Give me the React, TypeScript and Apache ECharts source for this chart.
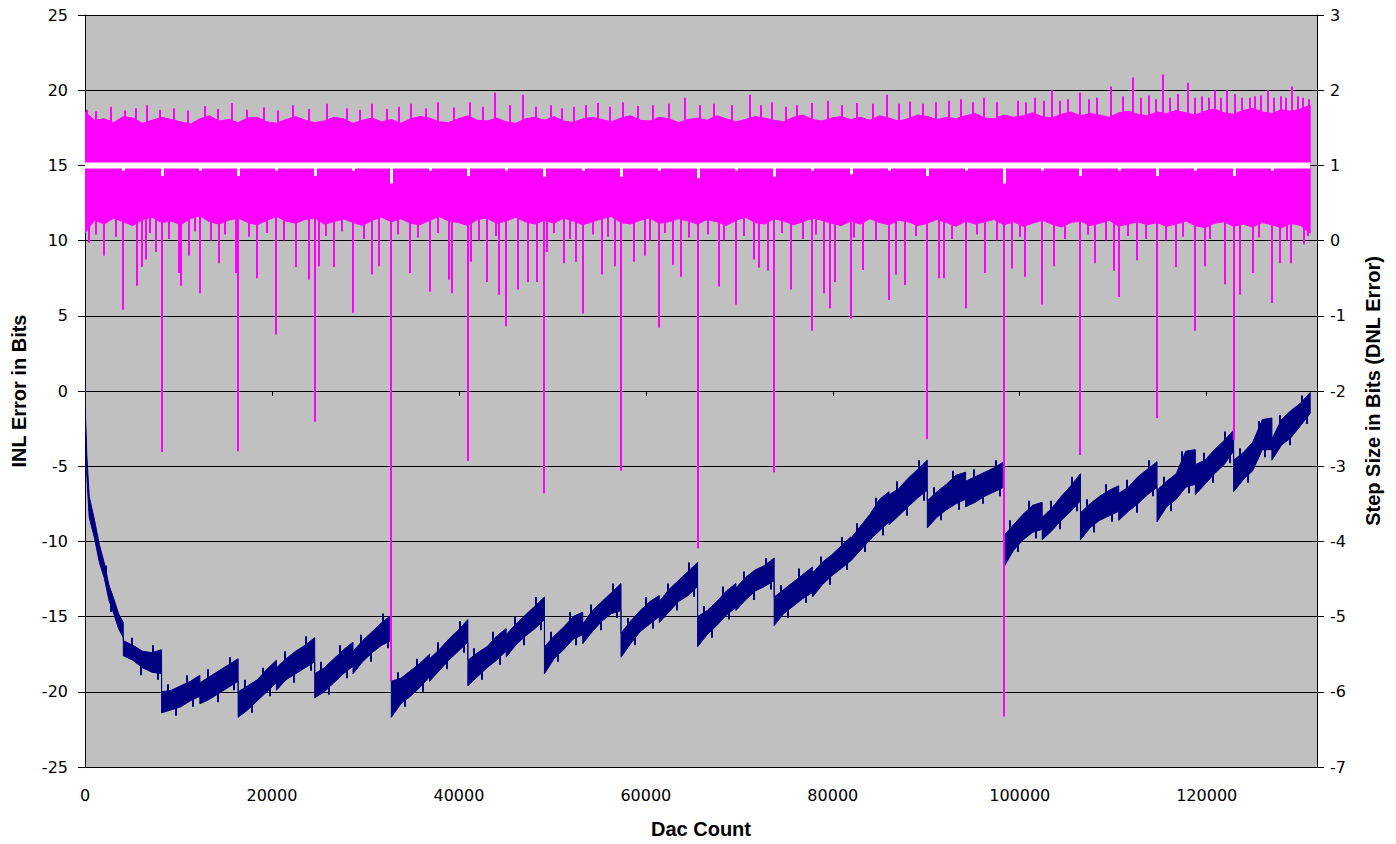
import React, { useEffect, useRef } from "react";
import * as echarts from "echarts";

const LABEL_FONT = "'DejaVu Sans', Verdana, sans-serif";
const NAME_FONT = "'Liberation Sans', Arial, sans-serif";
const NAVY = "#000080";
const MAGENTA = "#FF00FF";
const PLOT_BG = "#C0C0C0";

// ---------- axis ranges ----------
const X_MIN = 0;
const X_MAX = 131800;
const X_STEP = 20000;
const INL_MIN = -25;
const INL_MAX = 25;
const INL_STEP = 5;
const DNL_MIN = -7;
const DNL_MAX = 3;
const DNL_STEP = 1;

// ---------- INL (left axis) : band envelope ----------
const inlCount = [
  0, 64, 192, 448, 1024, 1536, 2048, 2560, 3072, 3584, 4095, 4096, 5120, 6144, 7168, 8191,
  8192, 9216, 10240, 11264, 12287, 12288, 13312, 14336, 15360, 16383,
  16384, 17408, 18432, 19456, 20479, 20480, 21504, 22528, 23552, 24575,
  24576, 25600, 26624, 27648, 28671, 28672, 29696, 30720, 31744, 32767,
  32768, 33792, 34816, 35840, 36863, 36864, 37888, 38912, 39936, 40959,
  40960, 41984, 43008, 44032, 45055, 45056, 46080, 47104, 48128, 49151,
  49152, 50176, 51200, 52224, 53247, 53248, 54272, 55296, 56320, 57343,
  57344, 58368, 59392, 60416, 61439, 61440, 62464, 63488, 64512, 65535,
  65536, 66560, 67584, 68608, 69631, 69632, 70656, 71680, 72704, 73727,
  73728, 74752, 75776, 76800, 77823, 77824, 78848, 79872, 80896, 81919,
  81920, 82944, 83968, 84992, 86015, 86016, 87040, 88064, 89088, 90111,
  90112, 91136, 92160, 93184, 94207, 94208, 95232, 96256, 97280, 98303,
  98304, 99328, 100352, 101376, 102399, 102400, 103424, 104448, 105472, 106495,
  106496, 107520, 108544, 109568, 110591, 110592, 111616, 112640, 113664, 114687,
  114688, 115712, 116736, 117760, 118783, 118784, 119808, 120832, 121856, 122879,
  122880, 123904, 124928, 125952, 126975, 126976, 128000, 129024, 130048, 131071,
];
const inlLow = [
  -0.3, -2.6, -5.6, -8.4, -9.8, -11.4, -12.4, -13.9, -14.8, -15.8, -16.4, -17.6, -17.9, -18.4, -18.7, -18.8,
  -21.4, -21.2, -21.0, -20.6, -20.3, -20.8, -20.5, -20.1, -19.7, -19.3,
  -21.7, -21.2, -20.6, -20.0, -19.4, -19.9, -19.2, -18.8, -18.4, -18.0,
  -20.4, -20.0, -19.4, -18.8, -18.3, -18.8, -18.0, -17.4, -16.9, -16.6,
  -21.7, -20.8, -20.3, -19.7, -19.0, -19.3, -18.6, -17.9, -17.3, -16.7,
  -19.6, -19.0, -18.4, -17.9, -17.3, -17.7, -16.9, -16.3, -15.8, -15.2,
  -18.8, -17.8, -17.2, -16.5, -16.2, -16.8, -16.0, -15.3, -14.8, -14.6,
  -17.7, -16.8, -16.0, -15.5, -15.0, -15.4, -14.7, -14.0, -13.6, -13.0,
  -17.0, -16.2, -15.6, -14.9, -14.4, -14.6, -13.9, -13.3, -13.0, -12.6,
  -15.6, -14.8, -14.3, -13.8, -13.4, -13.7, -12.9, -12.3, -11.8, -11.3,
  -11.3, -10.6, -9.9, -9.3, -8.7, -8.9, -8.3, -7.7, -7.1, -6.6,
  -9.1, -8.4, -7.9, -7.5, -7.2, -7.7, -7.4, -7.0, -6.7, -6.4,
  -11.7, -10.6, -9.9, -9.4, -9.2, -9.9, -9.3, -8.6, -8.0, -7.3,
  -9.9, -9.1, -8.6, -8.3, -8.0, -8.6, -8.0, -7.5, -6.9, -6.4,
  -8.7, -7.7, -7.2, -6.4, -6.2, -6.9, -6.2, -5.5, -4.9, -4.0,
  -6.7, -5.9, -5.3, -3.9, -3.9, -4.6, -3.6, -3.1, -2.3, -1.5,
];
const inlHigh = [
  0.4, -1.8, -4.2, -7.0, -8.6, -10.2, -11.4, -12.9, -13.8, -14.8, -15.4, -16.6, -16.9, -17.3, -17.4, -17.2,
  -20.0, -19.9, -19.6, -19.3, -18.9, -19.4, -19.0, -18.6, -18.2, -17.8,
  -20.0, -19.6, -19.2, -18.5, -17.9, -18.4, -17.8, -17.3, -16.9, -16.4,
  -18.8, -18.4, -17.8, -17.2, -16.7, -17.3, -16.6, -16.0, -15.4, -14.9,
  -19.3, -19.1, -18.6, -18.1, -17.5, -17.8, -17.2, -16.5, -15.9, -15.2,
  -17.9, -17.4, -17.0, -16.3, -15.8, -16.2, -15.5, -14.9, -14.3, -13.7,
  -17.0, -16.3, -15.7, -15.0, -14.7, -15.5, -14.6, -14.0, -13.4, -12.8,
  -16.1, -15.3, -14.6, -14.0, -13.6, -14.0, -13.2, -12.6, -12.0, -11.4,
  -15.0, -14.6, -14.0, -13.3, -12.8, -13.1, -12.4, -11.9, -11.6, -11.1,
  -13.7, -13.2, -12.7, -12.2, -11.7, -12.1, -11.4, -10.9, -10.3, -9.7,
  -9.8, -9.0, -8.2, -7.2, -6.7, -6.9, -6.5, -5.8, -5.2, -4.6,
  -7.3, -6.7, -6.2, -5.6, -5.4, -6.0, -5.7, -5.4, -5.1, -4.7,
  -9.6, -8.9, -8.2, -7.6, -7.4, -8.4, -7.8, -7.0, -6.3, -5.5,
  -8.1, -7.5, -7.0, -6.6, -6.3, -6.8, -6.4, -5.7, -5.2, -4.7,
  -6.6, -6.0, -5.5, -4.0, -3.9, -4.9, -4.6, -3.9, -3.3, -2.6,
  -4.6, -4.1, -3.4, -1.9, -1.8, -3.2, -1.9, -1.3, -0.8, -0.1,
];

// INL noise spikes poking out of the band (tip values)
const inlUpCount = [
  2300, 5000, 7300,
  8892, 10892, 13192, 15492, 17084, 19084, 21384, 23684, 25276, 27276, 29576, 31876,
  33468, 35468, 37768, 40068, 41660, 43660, 45960, 48260, 49852, 51852, 54152, 56452,
  58044, 60044, 62344, 64644, 66236, 68236, 70536, 72836, 74428, 76428, 78728, 81028,
  82620, 84620, 86920, 89220, 90812, 92812, 95112, 97412, 99004, 101004, 103304, 105604,
  107196, 109196, 111496, 113796, 115388, 117388, 119688, 121988, 123580, 125580, 127880, 130180,
];
const inlUpValue = [
  -11.6, -16.4, -16.9,
  -19.5, -18.9, -18.5, -17.7, -19.2, -18.4, -17.3, -16.3, -18.0, -16.9, -16.2, -14.8,
  -18.7, -17.8, -16.7, -15.3, -17.1, -16.0, -15.0, -13.7, -16.0, -14.7, -14.2, -12.8,
  -15.1, -13.7, -12.8, -11.4, -14.3, -13.0, -12.0, -11.1, -12.9, -11.8, -11.0, -9.7,
  -8.8, -7.1, -6.0, -4.6, -6.4, -5.3, -5.2, -4.6, -8.6, -7.3, -7.3, -5.7,
  -7.2, -6.2, -5.9, -4.6, -5.7, -4.0, -4.1, -2.7, -3.8, -2.0, -1.6, -0.3,
];
const inlDownCount = [
  2800, 6000, 7800,
  9692, 11592, 14192, 15992, 17884, 19784, 22384, 24184, 26076, 27976, 30576, 32376,
  34268, 36168, 38768, 40568, 42460, 44360, 46960, 48760, 50652, 52552, 55152, 56952,
  58844, 60744, 63344, 65144, 67036, 68936, 71536, 73336, 75228, 77128, 79728, 81528,
  83420, 85320, 87920, 89720, 91612, 93512, 96112, 97912, 99804, 101704, 104304, 106104,
  107996, 109896, 112496, 114296, 116188, 118088, 120688, 122488, 124380, 126280, 128880, 130680,
];
const inlDownValue = [
  -14.7, -18.9, -19.2,
  -21.6, -21.0, -20.7, -19.9, -21.4, -20.3, -19.4, -18.6, -20.2, -19.1, -18.0, -17.1,
  -21.0, -20.0, -18.5, -17.4, -19.2, -18.2, -16.9, -15.9, -18.0, -16.9, -15.9, -15.1,
  -16.9, -15.8, -14.6, -13.7, -16.4, -15.2, -13.9, -13.2, -15.1, -14.1, -12.9, -11.9,
  -10.7, -9.6, -8.3, -7.3, -8.6, -7.9, -7.5, -7.0, -10.7, -9.8, -9.2, -8.0,
  -9.4, -8.7, -8.1, -7.0, -8.0, -6.8, -6.1, -4.8, -6.1, -4.4, -3.6, -2.2,
];

// ---------- DNL (right axis) : dense band envelope, one value per 1024 counts ----------
const dnlStep = 1024;
const dnlLast = 131071;
const dnlHigh = [
  1.71, 1.60, 1.62, 1.57, 1.65, 1.63, 1.56, 1.60, 1.64, 1.61, 1.58, 1.55, 1.62, 1.66, 1.59, 1.61,
  1.57, 1.63, 1.64, 1.58, 1.56, 1.61, 1.65, 1.60, 1.57, 1.59, 1.64, 1.62, 1.56, 1.60, 1.63, 1.58,
  1.61, 1.56, 1.62, 1.65, 1.63, 1.58, 1.57, 1.62, 1.66, 1.60, 1.59, 1.63, 1.58, 1.56, 1.62, 1.64,
  1.60, 1.65, 1.59, 1.57, 1.62, 1.64, 1.61, 1.58, 1.63, 1.66, 1.60, 1.59, 1.64, 1.62, 1.57, 1.61,
  1.63, 1.60, 1.66, 1.62, 1.58, 1.61, 1.65, 1.63, 1.60, 1.58, 1.64, 1.67, 1.61, 1.59, 1.63, 1.65,
  1.61, 1.64, 1.60, 1.66, 1.63, 1.59, 1.62, 1.67, 1.65, 1.61, 1.64, 1.62, 1.66, 1.69, 1.63, 1.62,
  1.67, 1.64, 1.66, 1.70, 1.65, 1.63, 1.68, 1.71, 1.66, 1.69, 1.67, 1.64, 1.70, 1.72, 1.68, 1.66,
  1.71, 1.69, 1.73, 1.70, 1.67, 1.72, 1.75, 1.70, 1.68, 1.73, 1.76, 1.71, 1.69, 1.74, 1.72, 1.75,
  1.80,
];
const dnlLow = [
  0.10, 0.27, 0.22, 0.30, 0.25, 0.20, 0.28, 0.31, 0.24, 0.26, 0.21, 0.29, 0.33, 0.25, 0.22, 0.27,
  0.30, 0.24, 0.21, 0.27, 0.32, 0.26, 0.23, 0.28, 0.30, 0.22, 0.25, 0.29, 0.24, 0.20, 0.27, 0.31,
  0.25, 0.29, 0.23, 0.21, 0.27, 0.32, 0.26, 0.24, 0.20, 0.28, 0.30, 0.23, 0.26, 0.31, 0.25, 0.22,
  0.27, 0.23, 0.30, 0.26, 0.21, 0.25, 0.29, 0.32, 0.24, 0.22, 0.27, 0.30, 0.23, 0.25, 0.29, 0.26,
  0.22, 0.28, 0.25, 0.20, 0.27, 0.31, 0.24, 0.22, 0.29, 0.26, 0.21, 0.25, 0.30, 0.27, 0.23, 0.20,
  0.26, 0.22, 0.29, 0.24, 0.21, 0.27, 0.25, 0.20, 0.23, 0.28, 0.24, 0.19, 0.26, 0.22, 0.25, 0.28,
  0.21, 0.25, 0.19, 0.23, 0.27, 0.22, 0.18, 0.24, 0.26, 0.20, 0.23, 0.27, 0.19, 0.22, 0.25, 0.21,
  0.24, 0.19, 0.22, 0.26, 0.20, 0.17, 0.23, 0.25, 0.19, 0.22, 0.18, 0.24, 0.21, 0.17, 0.23, 0.20,
  0.10,
];
const dnlCount = dnlHigh.map((_, i) => Math.min(i * dnlStep, dnlLast));

// downward spikes of the step size (count, tip value)
const dnlDownCount = [
  427, 2048, 4096, 5554, 6144, 6515, 7583, 8192, 10039, 10253, 11107, 12288, 14336, 16127, 16384,
  18432, 20480, 22528, 23923, 24576, 24991, 26624, 28672, 30720, 31399, 32768, 34816, 36864, 38912,
  39302, 40960, 41332, 43008, 44322, 45056, 46351, 47419, 48380, 49152, 49448, 51200, 52546, 53248,
  55296, 56711, 57344, 58740, 59915, 61440, 62905, 63760, 65536, 67818, 69632, 71556, 72090, 73051,
  73728, 75508, 77824, 79032, 79673, 80207, 81920, 83197, 86016, 86722, 87683, 90112, 91314, 91848,
  94208, 96334, 98304, 99217, 100606, 102400, 103703, 106496, 108082, 110111, 110592, 112567, 114688,
  116736, 118784, 119830, 121966, 122880, 123568, 124910, 126976, 127840, 129024, 130403,
  1200, 3300, 7000, 9000, 11800, 13500, 15000, 17500, 19500, 21300, 25800, 27500, 29800, 33500, 35600,
  37800, 42200, 44000, 50200, 51900, 54300, 56000, 60400, 62000, 64600, 66600, 68400, 70500, 74600,
  76800, 78200, 82300, 84600, 88900, 92800, 95400, 97600, 100000, 104800, 107300, 109200, 111600,
  113500, 115600, 117500, 120400, 125600, 128600, 130800,
];
const dnlDownValue = [
  -0.03, -0.2, -0.92, -0.6, -0.35, -0.25, -0.15, -2.81, -0.43, -0.6, -0.2, -0.7, -0.3, -0.43, -2.8,
  -0.5, -1.25, -0.35, -0.52, -2.41, -0.34, -0.35, -0.96, -0.45, -0.34, -5.85, -0.43, -0.68, -0.52,
  -0.7, -2.93, -0.28, -0.55, -0.72, -1.14, -0.65, -0.55, -0.55, -3.36, -0.15, -0.3, -0.28, -0.97,
  -0.45, -0.34, -3.06, -0.28, -0.2, -1.16, -0.32, -0.48, -4.09, -0.61, -0.85, -0.25, -0.36, -0.4,
  -3.08, -0.65, -1.2, -0.7, -0.9, -0.55, -1.04, -0.39, -0.79, -0.45, -0.59, -2.64, -0.5, -0.5,
  -0.9, -0.43, -6.33, -0.37, -0.48, -0.85, -0.34, -2.85, -0.3, -0.4, -0.75, -0.26, -2.36,
  -0.35, -1.2, -0.34, -0.58, -2.65, -0.72, -0.43, -0.83, -0.3, -0.3, -0.05,
  0.08, 0.05, 0.1, 0.02, 0.12, 0.0, 0.08, 0.05, 0.1, 0.0, 0.06, 0.12, 0.02, 0.08, 0.04,
  0.1, 0.0, 0.06, 0.1, 0.02, 0.08, 0.05, 0.0, 0.1, 0.04, 0.08, 0.0, 0.06, 0.1,
  0.02, 0.08, 0.04, 0.0, 0.06, 0.02, 0.08, 0.0, 0.05, 0.02, 0.08, 0.0, 0.06,
  0.02, 0.0, 0.05, 0.02, 0.04, 0.0, 0.06,
];

// upward spikes (count, tip value)
const dnlUpCount = [
  214, 1200, 2777, 4300, 5500, 6622, 8000, 9500, 11000, 12800, 14200, 15700, 17300, 19200, 20700,
  22300, 24000, 25846, 28000, 29400, 30652, 32300, 33600, 34924, 36500, 37807, 39500, 41225, 42600,
  43895, 45500, 46885, 48300, 49800, 51000, 52300, 53600, 54900, 56200, 57565, 59200, 60800, 62500,
  64187, 65800, 67300, 69200, 71129, 72300, 73478, 75000, 76200, 77800, 79500, 81000, 82600, 84300,
  85760, 87100, 88300, 89700, 91000, 92400, 93700, 95000, 96200, 97600, 99800, 100700, 101600,
  102600, 103489, 104300, 105200, 106480, 107400, 108300, 109790, 111000, 112140, 113000, 113800,
  114600, 115344, 116100, 116900, 118013, 118800, 119500, 120200, 120898, 121500, 122179, 123034,
  123800, 124600, 125200, 125800, 126558, 127200, 127900, 128500, 129122, 129800, 130300, 130900,
];
const dnlUpValue = [
  1.74, 1.72, 1.78, 1.73, 1.76, 1.8, 1.74, 1.76, 1.73, 1.79, 1.75, 1.83, 1.74, 1.77, 1.73,
  1.8, 1.75, 1.82, 1.76, 1.74, 1.82, 1.75, 1.78, 1.82, 1.76, 1.84, 1.77, 1.84, 1.78,
  1.97, 1.8, 1.94, 1.78, 1.8, 1.76, 1.78, 1.8, 1.83, 1.78, 1.84, 1.79, 1.8, 1.82,
  1.9, 1.8, 1.82, 1.8, 1.94, 1.8, 1.84, 1.78, 1.8, 1.83, 1.86, 1.8, 1.83, 1.82,
  1.94, 1.82, 1.85, 1.82, 1.84, 1.86, 1.88, 1.84, 1.9, 1.84, 1.86, 1.84, 1.9,
  1.86, 2.0, 1.86, 1.88, 1.97, 1.88, 1.9, 2.05, 1.92, 2.17, 1.9, 1.93,
  1.88, 2.21, 1.9, 1.95, 2.1, 1.9, 1.92, 1.9, 2.0, 1.9, 2.0, 1.95,
  1.9, 1.9, 1.92, 1.93, 2.0, 1.9, 1.92, 1.9, 2.05, 1.92, 1.9, 1.88,
];

// white overlay line at step size 1 and its dips
const whiteLevel = 1.0;
const whiteDipCount = [
  4096, 8192, 12288, 16384, 20480, 24576, 28672, 32768, 36864, 40960, 45056, 49152, 53248, 57344,
  61440, 65536, 69632, 73728, 77824, 81920, 86016, 90112, 94208, 98304, 102400, 106496, 110592,
  114688, 118784, 122880, 126976,
];
const whiteDipValue = [
  0.93, 0.86, 0.93, 0.86, 0.93, 0.86, 0.93, 0.76, 0.93, 0.86, 0.93, 0.85, 0.93, 0.85,
  0.93, 0.83, 0.93, 0.85, 0.93, 0.88, 0.93, 0.86, 0.93, 0.76, 0.93, 0.86, 0.93,
  0.86, 0.93, 0.86, 0.93,
];

function bandSeries(counts: number[], lo: number[], hi: number[], yAxisIndex: number, color: string, z: number) {
  return {
    type: "custom",
    xAxisIndex: 0,
    yAxisIndex,
    z,
    silent: true,
    clip: true,
    data: counts.map((c, i) => [c, lo[i], hi[i]]),
    encode: { x: 0, y: [1, 2] },
    renderItem: (params: any, api: any) => {
      if (params.dataIndex !== 0) return { type: "group", children: [] };
      const top = counts.map((c, i) => api.coord([c, hi[i]]));
      const bottom = counts.map((c, i) => api.coord([c, lo[i]])).reverse();
      return {
        type: "polygon",
        shape: { points: top.concat(bottom) },
        style: { fill: color, stroke: color, lineWidth: 1 },
      };
    },
  };
}

// a vertical stroke from a base (fixed level, or tip + offset) to the tip value
function spikeSeries(
  counts: number[],
  values: number[],
  yAxisIndex: number,
  base: { level?: number; offset?: number },
  color: string,
  width: number,
  z: number
) {
  return {
    type: "custom",
    xAxisIndex: 0,
    yAxisIndex,
    z,
    silent: true,
    clip: true,
    data: counts.map((c, i) => [c, values[i]]),
    encode: { x: 0, y: 1 },
    renderItem: (params: any, api: any) => {
      const c = api.value(0);
      const v = api.value(1);
      const b = base.level !== undefined ? base.level : v + (base.offset || 0);
      const p1 = api.coord([c, b]);
      const p2 = api.coord([c, v]);
      const x = width % 2 === 1 ? Math.round(p1[0]) + 0.5 : Math.round(p1[0]);
      return {
        type: "line",
        shape: { x1: x, y1: p1[1], x2: x, y2: p2[1] },
        style: { stroke: color, lineWidth: width },
      };
    },
  };
}

export default function App() {
  const ref = useRef<HTMLDivElement>(null);

  useEffect(() => {
    if (!ref.current) return;
    const chart = echarts.init(ref.current, null, { renderer: "svg" });
    const axisText = { color: "#000", fontSize: 16, fontFamily: LABEL_FONT };
    const nameText = { color: "#000", fontSize: 20, fontFamily: NAME_FONT, fontWeight: "bold" as const };

    chart.setOption({
      animation: false,
      backgroundColor: "#fff",
      grid: {
        left: 85,
        top: 15,
        width: 1232,
        height: 752,
        show: true,
        backgroundColor: PLOT_BG,
        borderWidth: 0,
      },
      xAxis: [
        {
          type: "value",
          min: X_MIN,
          max: X_MAX,
          interval: X_STEP,
          position: "bottom",
          axisLine: { show: true, onZero: false, lineStyle: { color: "#000", width: 1 } },
          axisTick: { show: false },
          axisLabel: {
            ...axisText,
            margin: 20,
            showMaxLabel: false,
            formatter: (v: number) => String(v),
          },
          splitLine: { show: false },
          name: "Dac Count",
          nameLocation: "middle",
          nameGap: 52,
          nameTextStyle: nameText,
        },
        {
          type: "value",
          min: X_MIN,
          max: X_MAX,
          interval: X_STEP,
          position: "bottom",
          offset: -376,
          axisLine: { show: false, onZero: false },
          axisTick: { show: true, length: 5, inside: false, lineStyle: { color: "#000" } },
          axisLabel: { show: false },
          splitLine: { show: false },
        },
      ],
      yAxis: [
        {
          type: "value",
          min: INL_MIN,
          max: INL_MAX,
          interval: INL_STEP,
          position: "left",
          axisLine: { show: true, onZero: false, lineStyle: { color: "#000", width: 1 } },
          axisTick: { show: true, length: 7, lineStyle: { color: "#000" } },
          axisLabel: { ...axisText, margin: 17 },
          splitLine: { show: true, lineStyle: { color: "#000", width: 1 } },
          name: "INL Error in Bits",
          nameLocation: "middle",
          nameGap: 56,
          nameRotate: 90,
          nameTextStyle: nameText,
        },
        {
          type: "value",
          min: DNL_MIN,
          max: DNL_MAX,
          interval: DNL_STEP,
          position: "right",
          axisLine: { show: true, onZero: false, lineStyle: { color: "#000", width: 1 } },
          axisTick: { show: true, length: 7, lineStyle: { color: "#000" } },
          axisLabel: { ...axisText, margin: 13 },
          splitLine: { show: false },
          name: "Step Size in Bits (DNL Error)",
          nameLocation: "middle",
          nameGap: 46,
          nameRotate: 90,
          nameTextStyle: nameText,
        },
      ],
      series: [
        bandSeries(inlCount, inlLow, inlHigh, 0, NAVY, 2),
        spikeSeries(inlUpCount, inlUpValue, 0, { offset: -0.9 }, NAVY, 2, 2),
        spikeSeries(inlDownCount, inlDownValue, 0, { offset: 0.9 }, NAVY, 2, 2),
        bandSeries(dnlCount, dnlLow, dnlHigh, 1, MAGENTA, 3),
        spikeSeries(dnlDownCount, dnlDownValue, 1, { level: 0.6 }, MAGENTA, 2, 4),
        spikeSeries(dnlUpCount, dnlUpValue, 1, { level: 1.45 }, MAGENTA, 2, 4),
        {
          type: "line",
          xAxisIndex: 0,
          yAxisIndex: 1,
          z: 5,
          silent: true,
          symbol: "none",
          data: [
            [0, whiteLevel],
            [dnlLast, whiteLevel],
          ],
          lineStyle: { color: "#fff", width: 6 },
        },
        spikeSeries(whiteDipCount, whiteDipValue, 1, { level: whiteLevel }, "#fff", 3, 6),
      ],
    });

    return () => chart.dispose();
  }, []);

  return (
    <div
      ref={ref}
      style={{ position: "absolute", left: 0, top: 0, width: "1396px", height: "844px" }}
    />
  );
}
